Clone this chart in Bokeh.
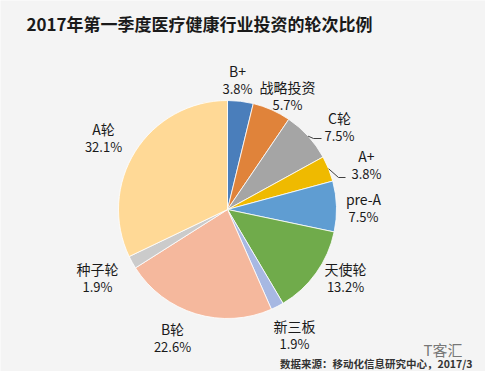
import math
from bokeh.plotting import figure
from bokeh.models import Range1d, ColumnDataSource
from bokeh.core.properties import value
from bokeh.embed import file_html
from bokeh.resources import INLINE

title = "2017年第一季度医疗健康行业投资的轮次比例"
source_note = "数据来源：移动化信息研究中心，2017/3"
categories = ["B+", "战略投资", "C轮", "A+", "pre-A", "天使轮", "新三板", "B轮", "种子轮", "A轮"]
shares = [3.8, 5.7, 7.5, 3.8, 7.5, 13.2, 1.9, 22.6, 1.9, 32.1]
colors = ["#4a7ebb", "#e0833a", "#a5a5a5", "#efba00", "#5f9dd2", "#70ab4b",
          "#a7b8e2", "#f5b89d", "#cbcbcb", "#ffd996"]
# label centres in screen pixels (x, y of first line)
label_pos = [(237, 70), (287, 86), (339, 117), (366, 155), (363, 198),
             (345, 268), (294, 325), (172, 328), (97, 268), (103, 128)]

W, H = 485, 371

def sy(y):
    return H - y

p = figure(width=W, height=H, output_backend="svg", toolbar_location=None,
           x_range=Range1d(0, W), y_range=Range1d(0, H),
           min_border=0, outline_line_color=None)
p.axis.visible = False
p.grid.visible = False
p.background_fill_color = "#f4f4f4"
p.border_fill_color = "#f4f4f4"

cx, cy, r = 227, sy(209), 109
total = sum(shares)
starts, ends = [], []
cum = 0.0
for s in shares:
    starts.append(math.pi / 2 - 2 * math.pi * cum / total)
    cum += s
    ends.append(math.pi / 2 - 2 * math.pi * cum / total)

src = ColumnDataSource(dict(start=starts, end=ends, color=colors))
p.wedge(x=cx, y=cy, radius=r, start_angle="start", end_angle="end",
        direction="clock", fill_color="color", line_color="white",
        line_width=0.8, source=src)

# leader lines for C轮 and A+
p.line([cx + r * math.cos((starts[2] + ends[2]) / 2), 313, 321],
       [cy + r * math.sin((starts[2] + ends[2]) / 2), sy(138), sy(138)], line_color="#404040", line_width=1)
p.line([cx + r * math.cos((starts[3] + ends[3]) / 2), 338, 345],
       [cy + r * math.sin((starts[3] + ends[3]) / 2), sy(177), sy(177)], line_color="#404040", line_width=1)

font = value("Noto Sans CJK SC")
names_x = [lp[0] for lp in label_pos]
names_y = [sy(lp[1]) for lp in label_pos]
pct_y = [sy(lp[1] + 18) for lp in label_pos]
pcts = [f"{s:.1f}%" for s in shares]
p.text(x=names_x, y=names_y, text=categories, text_font=font, text_font_size="14px",
       text_align="center", text_baseline="middle", text_color="#1a1a1a")
p.text(x=names_x, y=pct_y, text=pcts, text_font=font, text_font_size="13px",
       text_align="center", text_baseline="middle", text_color="#1a1a1a")

p.text(x=[26], y=[sy(23)], text=[title], text_font=font, text_font_size="17px",
       text_font_style="bold", text_align="left", text_baseline="middle", text_color="#1a1a1a")
p.text(x=[472], y=[sy(363)], text=[source_note], text_font=font, text_font_size="10.5px",
       text_font_style="bold", text_align="right", text_baseline="middle", text_color="#333333")
p.text(x=[423], y=[sy(349)], text=["T客汇"], text_font=font, text_font_size="15px",
       text_align="left", text_baseline="middle", text_color="#555555", text_alpha=0.8)

open("out.html", "w").write(file_html(p, INLINE))
